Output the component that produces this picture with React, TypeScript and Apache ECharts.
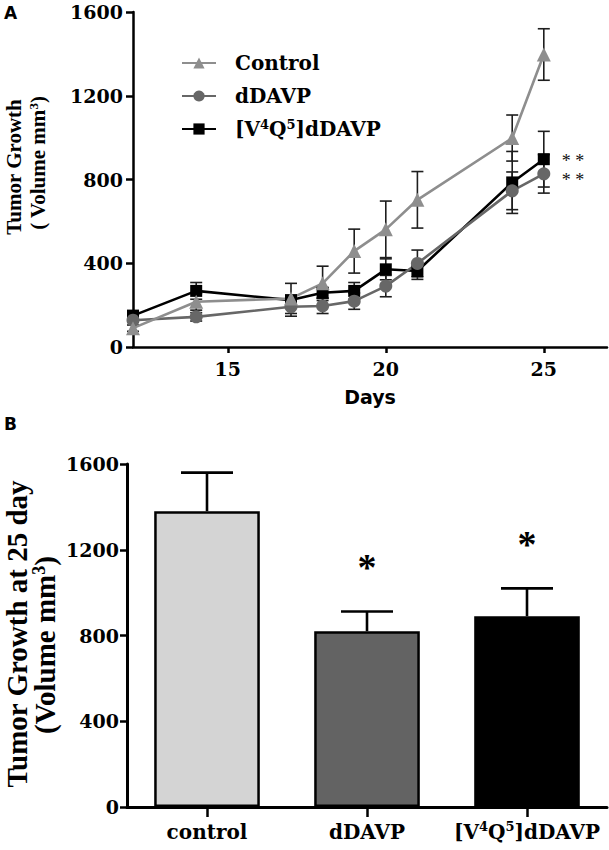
import React, { useEffect, useRef } from "react";
import * as echarts from "echarts";

// ---------- Panel A data (tumor volume, mm3) ----------
const days = [12, 14, 17, 18, 19, 20, 21, 24, 25];
const xTickDays = [15, 20, 25];
const controlMean = [90, 216, 232, 304, 458, 562, 703, 998, 1397];
const controlSem = [15, 40, 72, 82, 105, 135, 135, 110, 123];
const ddavpMean = [128, 144, 192, 196, 219, 291, 399, 746, 827];
const ddavpSem = [10, 20, 45, 36, 39, 51, 64, 90, 92];
const v4q5Mean = [150, 268, 224, 259, 268, 371, 363, 786, 897];
const v4q5Sem = [10, 40, 20, 25, 40, 50, 40, 148, 133];
// significance at day 25, listed top-down as drawn: V4Q5 then dDAVP
const lastDayMarks = ["* *", "* *"];

// ---------- Panel B data (day 25) ----------
const groups = ["control", "dDAVP", "[V4Q5]dDAVP"];
const day25Mean = [1380, 820, 890];
const day25Sem = [180, 92, 130];
const day25Sig = ["", "*", "*"];

const SERIFB = '"DejaVu Serif", "Liberation Serif", serif';
const TIMES = '"Liberation Serif", "Times New Roman", serif';
const SANS = '"DejaVu Sans", "Liberation Sans", sans-serif';

const supFmt = (s: string) => s.replace("[V4Q5]", "[V{sup|4}Q{sup|5}]");

export default function App() {
  const ref = useRef<HTMLDivElement>(null);
  useEffect(() => {
    if (!ref.current) return;
    const chart = echarts.init(ref.current, undefined, { renderer: "svg" });

    const errA = (color: string) => (params: any, api: any) => {
      const x = api.value(0), m = api.value(1), s = api.value(2);
      const top = api.coord([x, m + s]);
      const bot = api.coord([x, m - s]);
      const hw = 6;
      const st = { stroke: color, lineWidth: 1.6 };
      return {
        type: "group",
        children: [
          { type: "line", shape: { x1: top[0], y1: top[1], x2: bot[0], y2: bot[1] }, style: st },
          { type: "line", shape: { x1: top[0] - hw, y1: top[1], x2: top[0] + hw, y2: top[1] }, style: st },
          { type: "line", shape: { x1: bot[0] - hw, y1: bot[1], x2: bot[0] + hw, y2: bot[1] }, style: st },
        ],
      };
    };

    const lineSeries = (name: string, mean: number[], color: string, symbol: string, size: number, mark: string) => ({
      type: "line",
      name,
      xAxisIndex: 0,
      yAxisIndex: 0,
      symbol,
      symbolSize: size,
      lineStyle: { color, width: 2.6 },
      itemStyle: { color },
      z: 3,
      data: days.map((d, i) =>
        i === days.length - 1 && mark
          ? {
              value: [d, mean[i]],
              label: {
                show: true,
                position: "right",
                distance: 12,
                formatter: mark,
                fontFamily: TIMES,
                fontSize: 18,
                lineHeight: 19,
                color: "#111",
                offset: [0, 11],
              },
            }
          : [d, mean[i]]
      ),
    });

    const errSeries = (mean: number[], sem: number[]) => ({
      type: "custom",
      xAxisIndex: 0,
      yAxisIndex: 0,
      silent: true,
      z: 3,
      renderItem: errA("#1e1e1e"),
      encode: { x: 0, y: 1 },
      data: days.map((d, i) => [d, mean[i], sem[i]]),
    });

    const barFill = ["#d4d4d4", "#636363", "#000000"];

    const supRich = (size: number, family: string) => ({
      sup: { fontSize: size, fontFamily: family, fontWeight: "bold", verticalAlign: "top", color: "#000" },
    });

    const plain = (v: number) => String(v);
    const tickLabel = { fontFamily: SERIFB, fontWeight: "bold", fontSize: 19, color: "#000" };

    chart.setOption({
      animation: false,
      grid: [
        { left: 133, top: 12, width: 474, height: 335 },
        { left: 127, top: 464, width: 480, height: 343 },
      ],
      legend: {
        data: ["Control", "dDAVP", "[V4Q5]dDAVP"],
        orient: "vertical",
        left: 176,
        top: 47,
        itemWidth: 34,
        itemHeight: 14,
        itemGap: 11,
        formatter: (n: string) => supFmt(n),
        textStyle: {
          fontFamily: SERIFB,
          fontWeight: "bold",
          fontSize: 20,
          lineHeight: 22,
          color: "#000",
          padding: [0, 0, 0, 14],
          rich: supRich(13, SERIFB),
        },
      },
      xAxis: [
        {
          gridIndex: 0,
          type: "value",
          min: 12,
          max: 27,
          axisLine: { show: true, onZero: false, lineStyle: { color: "#000", width: 2.5 } },
          axisTick: { show: true, length: 6, customValues: xTickDays, lineStyle: { color: "#000", width: 2.5 } },
          axisLabel: { ...tickLabel, customValues: xTickDays, margin: 12, formatter: plain },
          splitLine: { show: false },
          name: "Days",
          nameLocation: "middle",
          nameGap: 40,
          nameTextStyle: { fontFamily: SANS, fontWeight: "bold", fontSize: 19, color: "#000" },
        },
        {
          gridIndex: 1,
          type: "category",
          data: groups,
          axisLine: { show: true, lineStyle: { color: "#000", width: 3 } },
          axisTick: { show: true, alignWithLabel: true, length: 10, lineStyle: { color: "#000", width: 2.5 } },
          axisLabel: {
            ...tickLabel,
            fontSize: 20,
            lineHeight: 24,
            margin: 13,
            interval: 0,
            hideOverlap: false,
            formatter: (v: string) => supFmt(v),
            rich: supRich(13, SERIFB),
          },
        },
      ],
      yAxis: [
        {
          gridIndex: 0,
          type: "value",
          min: 0,
          max: 1600,
          interval: 400,
          axisLine: { show: true, lineStyle: { color: "#000", width: 2.5 } },
          axisTick: { show: true, length: 7, lineStyle: { color: "#000", width: 2.5 } },
          axisLabel: { ...tickLabel, margin: 10, formatter: plain },
          splitLine: { show: false },
        },
        {
          gridIndex: 1,
          type: "value",
          min: 0,
          max: 1600,
          interval: 400,
          axisLine: { show: true, lineStyle: { color: "#000", width: 3 } },
          axisTick: { show: true, length: 7, lineStyle: { color: "#000", width: 2.5 } },
          axisLabel: { ...tickLabel, margin: 8, formatter: plain },
          splitLine: { show: false },
        },
      ],
      series: [
        errSeries(v4q5Mean, v4q5Sem),
        lineSeries("[V4Q5]dDAVP", v4q5Mean, "#000000", "rect", 12, lastDayMarks.join("\n")),
        errSeries(ddavpMean, ddavpSem),
        lineSeries("dDAVP", ddavpMean, "#676767", "circle", 13, ""),
        errSeries(controlMean, controlSem),
        lineSeries("Control", controlMean, "#8e8e8e", "triangle", 14, ""),
        {
          type: "bar",
          xAxisIndex: 1,
          yAxisIndex: 1,
          barWidth: "66%",
          itemStyle: { borderColor: "#000", borderWidth: 2.5 },
          data: day25Mean.map((v, i) => ({ value: v, itemStyle: { color: barFill[i] } })),
        },
        {
          type: "custom",
          xAxisIndex: 1,
          yAxisIndex: 1,
          silent: true,
          z: 4,
          encode: { x: 0, y: 1 },
          data: day25Mean.map((v, i) => [i, v, day25Sem[i]]),
          renderItem: (params: any, api: any) => {
            const i = api.value(0), m = api.value(1), s = api.value(2);
            const base = api.coord([i, m]);
            const top = api.coord([i, m + s]);
            const hw = 26;
            const st = { stroke: "#000", lineWidth: 2.6 };
            const children: any[] = [
              { type: "line", shape: { x1: base[0], y1: base[1], x2: top[0], y2: top[1] }, style: st },
              { type: "line", shape: { x1: top[0] - hw, y1: top[1], x2: top[0] + hw, y2: top[1] }, style: st },
            ];
            const sig = day25Sig[params.dataIndex];
            if (sig) {
              children.push({
                type: "text",
                x: top[0],
                y: top[1] - 44,
                style: {
                  text: sig,
                  fontFamily: TIMES,
                  fontWeight: "bold",
                  fontSize: 38,
                  fill: "#000",
                  align: "center",
                  verticalAlign: "middle",
                },
              });
            }
            return { type: "group", children };
          },
        },
      ],
      graphic: [
        { type: "text", x: 4, y: 4, style: { text: "A", fontFamily: SANS, fontWeight: "bold", fontSize: 17, fill: "#000" } },
        { type: "text", x: 4, y: 415, style: { text: "B", fontFamily: SANS, fontWeight: "bold", fontSize: 17, fill: "#000" } },
        {
          type: "text", x: 14, y: 167, rotation: Math.PI / 2,
          style: { text: "Tumor Growth", fontFamily: TIMES, fontWeight: "bold", fontSize: 21, fill: "#000", align: "center", verticalAlign: "middle" },
        },
        {
          type: "text", x: 38, y: 163, rotation: Math.PI / 2,
          style: {
            text: "( Volume mm{sup|3})", fontFamily: TIMES, fontWeight: "bold", fontSize: 21, lineHeight: 23, fill: "#000",
            align: "center", verticalAlign: "middle",
            rich: { sup: { fontFamily: TIMES, fontWeight: "bold", fontSize: 13, verticalAlign: "top", fill: "#000" } },
          },
        },
        {
          type: "text", x: 17, y: 634, rotation: Math.PI / 2,
          style: { text: "Tumor Growth at 25 day", fontFamily: TIMES, fontWeight: "bold", fontSize: 29, fill: "#000", align: "center", verticalAlign: "middle" },
        },
        {
          type: "text", x: 45, y: 645, rotation: Math.PI / 2,
          style: {
            text: "(Volume mm{sup|3})", fontFamily: TIMES, fontWeight: "bold", fontSize: 29, lineHeight: 30, fill: "#000",
            align: "center", verticalAlign: "middle",
            rich: { sup: { fontFamily: TIMES, fontWeight: "bold", fontSize: 18, verticalAlign: "top", fill: "#000" } },
          },
        },
      ],
    });
    return () => chart.dispose();
  }, []);
  return <div ref={ref} style={{ position: "absolute", left: 0, top: 0, width: 609, height: 850 }} />;
}
